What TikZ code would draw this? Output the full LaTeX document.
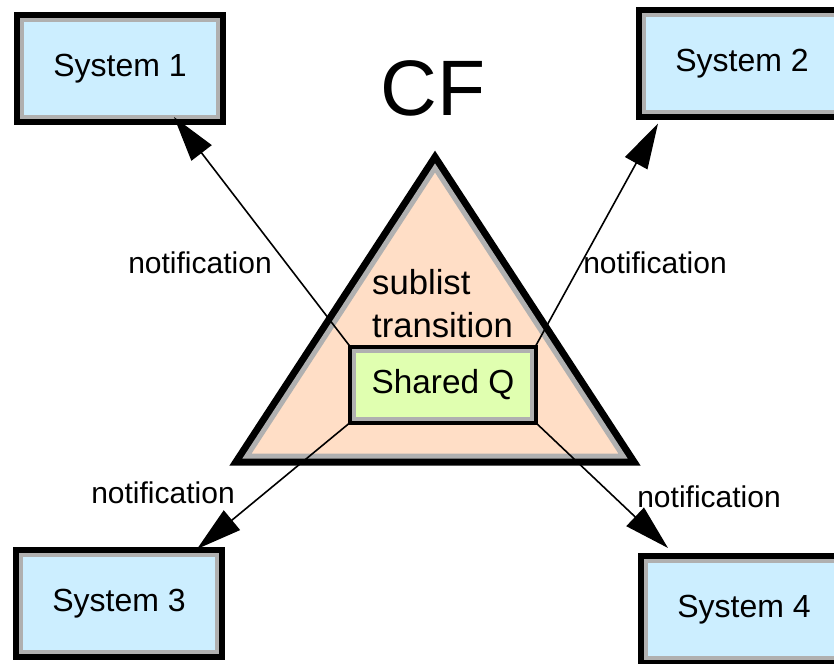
\documentclass[tikz,border=0pt]{standalone}
\usepackage{fontspec}
\setmainfont{Liberation Sans}
\usetikzlibrary{arrows.meta,calc}

\definecolor{sysblue}{RGB}{204,238,255}
\definecolor{qgreen}{RGB}{224,255,176}
\definecolor{cfpeach}{RGB}{255,222,198}
\definecolor{rimgray}{RGB}{176,176,176}

\tikzset{every picture/.style={line width=0.75pt}}
\tikzset{
  sysbox/.style={draw=rimgray, line width=3pt, preaction={draw=black, line width=12pt}, fill=sysblue,
    minimum width=147pt, minimum height=72.75pt, inner sep=0pt, font=\fontsize{24}{29}\selectfont},
  qbox/.style={draw=rimgray, line width=3pt, preaction={draw=black, line width=9pt}, fill=qgreen,
    minimum width=133.5pt, minimum height=51pt, inner sep=0pt, font=\fontsize{25}{30}\selectfont},
  notelabel/.style={inner sep=0pt, font=\fontsize{22.5}{27}\selectfont},
  notify/.style={line width=1.2pt, -{Triangle[length=34pt,width=19pt]}}
}

\begin{document}
\begin{tikzpicture}[x=0.75pt,y=0.75pt,yscale=-1,xscale=1]
\clip (0,0) rectangle (834,663);

%Shape: Triangle [CF]
\draw [draw=rimgray, fill=cfpeach, line width=3.75pt, preaction={draw=black, line width=14.25pt}]
  (435,168) -- (623,456) -- (247,456) -- cycle ;

% Text Node
\node [inner sep=0pt, align=left, font=\fontsize{26}{32}\selectfont] (sub) at (442.5,303.5) {sublist\\transition};
% Text Node
\node [inner sep=0pt, font=\fontsize{59}{70}\selectfont] (cf) at (433,88) {CF};

%Shape: Rectangle [Shared Q]
\node [qbox] (q) at (443,385) {Shared Q};

%Shape: Rectangle [Systems]
\node [sysbox] (s1) at (120,68.5) {System 1};
\node [sysbox] (s2) at (742,64) {System 2};
\node [sysbox] (s3) at (119,603.5) {System 3};
\node [sysbox] (s4) at (744,609.5) {System 4};

%Straight Lines [notifications]
\draw [notify] (q.north west) -- ($(s1.south west)!0.77!(s1.south east)+(0,-2)$) ;
\draw [notify] (q.north east) -- ($(s2.south west)!0.08!(s2.south east)+(0,9)$) ;
\draw [notify] (q.south west) -- ($(s3.north west)!0.89!(s3.north east)+(0,-4)$) ;
\draw [notify] (q.south east) -- ($(s4.north west)!0.12!(s4.north east)+(0,-11)$) ;

% Text Node
\node [notelabel] (n1) at (200,263) {notification};
% Text Node
\node [notelabel] (n2) at (655,263) {notification};
% Text Node
\node [notelabel] (n3) at (163,493) {notification};
% Text Node
\node [notelabel] (n4) at (709,497) {notification};

\end{tikzpicture}
\end{document}
